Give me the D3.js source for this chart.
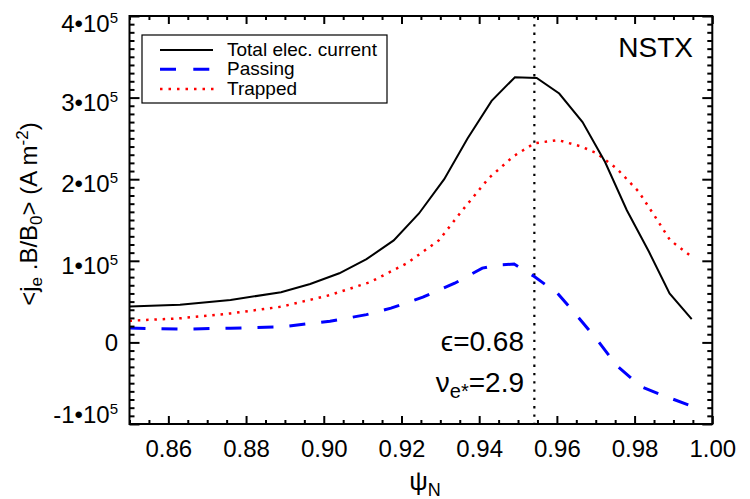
<!DOCTYPE html>
<html><head><meta charset="utf-8">
<script src="https://cdn.jsdelivr.net/npm/d3@7"></script>
<style>
body{margin:0;background:#fff}
svg{display:block}
text{font-family:"Liberation Sans",Arial,Helvetica,sans-serif;fill:#000}
</style>
</head><body>
<svg id="chart" width="750" height="499"></svg>
<script>
// ---------------- data ----------------
const psiTotal = [0.850,0.863,0.876,0.889,0.8965,0.904,0.911,0.918,0.9245,0.931,0.937,0.9432,0.9492,0.9548,0.9606,0.9666,0.9724,0.978,0.9837,0.989,0.9947];
const total    = [44000,46000,52000,61500,71500,84700,102000,125000,158000,200000,250000,296000,325000,324000,305000,270000,221000,162000,111000,60000,28500];

const psiPassing = [0.850,0.863,0.876,0.889,0.9016,0.911,0.9173,0.9255,0.9337,0.9408,0.9449,0.949,0.9541,0.9602,0.9653,0.9704,0.9755,0.9816,0.9867,0.9947];
const passing    = [17500,16300,17300,19000,26000,34000,42000,55400,72500,91000,95000,96000,81000,60000,32000,3000,-29000,-54000,-64000,-78000];

const psiTrapped = [0.850,0.863,0.876,0.889,0.9016,0.912,0.9214,0.9296,0.9357,0.9424,0.9488,0.9542,0.9603,0.9663,0.9702,0.9754,0.981,0.9857,0.9891,0.9947];
const trapped    = [26500,29500,35500,43700,58000,74000,97000,125000,162000,201000,228000,244000,248000,240000,232000,213000,185000,151000,125500,105000];

const seriesNames = ["Total elec. current","Passing","Trapped"];

const xTicks = [0.86,0.88,0.90,0.92,0.94,0.96,0.98,1.00];
const xTickLabels = ["0.86","0.88","0.90","0.92","0.94","0.96","0.98","1.00"];
const yTicks = [-100000,0,100000,200000,300000,400000];
const yTickMantissa = ["-1","0","1","2","3","4"];
const yTickExponent = ["5","","5","5","5","5"];

const markerPsi = 0.9542;
const epsValue = "0.68";
const nuValue = "2.9";
const machine = "NSTX";

// ---------------- layout ----------------
const L = 129.5, R = 712.3, T = 16, B = 424;
const x = d3.scaleLinear().domain([0.85, 1.00]).range([L, R]);
const y = d3.scaleLinear().domain([-100000, 400000]).range([B, T]);
const svg = d3.select("#chart");

// vertical dotted marker
svg.append("line")
  .attr("x1", x(markerPsi)).attr("x2", x(markerPsi))
  .attr("y1", T).attr("y2", B)
  .attr("stroke", "#000").attr("stroke-width", 2.2)
  .attr("stroke-dasharray", "2.3,6");

// series
const line = d3.line().x(d => x(d[0])).y(d => y(d[1]));
const zip = (a, b) => a.map((v, i) => [v, b[i]]);
svg.append("path").attr("d", line(zip(psiTrapped, trapped)))
  .attr("fill", "none").attr("stroke", "#ff0000").attr("stroke-width", 2.5)
  .attr("stroke-dasharray", "2.5,5.8");
svg.append("path").attr("d", line(zip(psiPassing, passing)))
  .attr("fill", "none").attr("stroke", "#0000ff").attr("stroke-width", 3)
  .attr("stroke-dasharray", "16,16");
svg.append("path").attr("d", line(zip(psiTotal, total)))
  .attr("fill", "none").attr("stroke", "#000").attr("stroke-width", 2)
  .attr("stroke-linejoin", "miter");

// axes
const xMinor = d3.range(0.85, 1.0001, 0.005).filter(v => !xTicks.some(t => Math.abs(t - v) < 1e-6));
const yMinor = d3.range(-100000, 400001, 10000).filter(v => v % 100000 !== 0);

function styleAxis(g) {
  g.select(".domain").remove();
  g.selectAll(".tick line").attr("stroke", "#000").attr("stroke-width", 2);
}
// bottom
const gB = svg.append("g").attr("transform", `translate(0,${B})`)
  .call(d3.axisBottom(x).tickValues(xTicks).tickSize(-8).tickPadding(0)
        .tickFormat((d, i) => xTickLabels[i]));
styleAxis(gB);
gB.selectAll(".tick text").attr("y", 33).attr("dy", 0).attr("font-size", 24)
  .attr("font-family", "Liberation Sans, Arial, sans-serif");
svg.append("g").attr("transform", `translate(0,${B})`)
  .call(d3.axisBottom(x).tickValues(xMinor).tickSize(-4).tickFormat(""))
  .call(styleAxis);
// top
svg.append("g").attr("transform", `translate(0,${T})`)
  .call(d3.axisTop(x).tickValues(xTicks).tickSize(-8).tickFormat("")).call(styleAxis);
svg.append("g").attr("transform", `translate(0,${T})`)
  .call(d3.axisTop(x).tickValues(xMinor).tickSize(-4).tickFormat("")).call(styleAxis);
// left
const gL = svg.append("g").attr("transform", `translate(${L},0)`)
  .call(d3.axisLeft(y).tickValues(yTicks).tickSize(-10).tickFormat(""));
styleAxis(gL);
gL.selectAll(".tick text").each(function(d, i) {
  const t = d3.select(this);
  const hasExp = yTickExponent[i] !== "";
  let base = y(d) + (hasExp ? 12.5 : 8);
  base = Math.max(T + 15.7, Math.min(B - 2, base));
  t.attr("x", -11.5).attr("y", base - y(d)).attr("dy", 0)
   .attr("font-size", 24).attr("text-anchor", "end")
   .attr("font-family", "Liberation Sans, Arial, sans-serif");
  t.text(null);
  t.append("tspan").text(yTickMantissa[i] + (hasExp ? "\u202210" : ""));
  if (hasExp) t.append("tspan").attr("dy", -9).attr("font-size", 15).text(yTickExponent[i]);
});
svg.append("g").attr("transform", `translate(${L},0)`)
  .call(d3.axisLeft(y).tickValues(yMinor).tickSize(-5).tickFormat("")).call(styleAxis);
// right
svg.append("g").attr("transform", `translate(${R},0)`)
  .call(d3.axisRight(y).tickValues(yTicks).tickSize(-10).tickFormat("")).call(styleAxis);
svg.append("g").attr("transform", `translate(${R},0)`)
  .call(d3.axisRight(y).tickValues(yMinor).tickSize(-5).tickFormat("")).call(styleAxis);

// frame
svg.append("rect").attr("x", L).attr("y", T).attr("width", R - L).attr("height", B - T)
  .attr("fill", "none").attr("stroke", "#000").attr("stroke-width", 2);

// axis titles
const xt = svg.append("text").attr("x", 425).attr("y", 490).attr("text-anchor", "middle").attr("font-size", 26);
xt.append("tspan").text("\u03C8");
xt.append("tspan").attr("dy", 6).attr("font-size", 18).text("N");

const yt = svg.append("text").attr("transform", "translate(37,214) rotate(-90)")
  .attr("text-anchor", "middle").attr("font-size", 24);
yt.append("tspan").text("<j");
yt.append("tspan").attr("dy", 5).attr("font-size", 17).text("e");
yt.append("tspan").attr("dy", -5).text("  .B/B");
yt.append("tspan").attr("dy", 5).attr("font-size", 17).text("0");
yt.append("tspan").attr("dy", -5).text("> (A m");
yt.append("tspan").attr("dy", -9).attr("font-size", 17).text("-2");
yt.append("tspan").attr("dy", 9).text(")");

// legend
svg.append("rect").attr("x", 142).attr("y", 35).attr("width", 245).attr("height", 68)
  .attr("fill", "#fff").attr("stroke", "#000").attr("stroke-width", 1.2);
const legStyles = [
  {stroke: "#000", w: 2, dash: null, x2: 213},
  {stroke: "#0000ff", w: 3, dash: "16,17.3", x2: 209.3},
  {stroke: "#ff0000", w: 2.5, dash: "2.5,6", x2: 214}
];
const legY = [50, 69.3, 89];
seriesNames.forEach((name, i) => {
  const s = legStyles[i];
  svg.append("line").attr("x1", 160).attr("x2", s.x2).attr("y1", legY[i]).attr("y2", legY[i])
    .attr("stroke", s.stroke).attr("stroke-width", s.w).attr("stroke-dasharray", s.dash);
  svg.append("text").attr("x", 227).attr("y", legY[i] + 5.8).attr("font-size", 19).text(name);
});

// annotations
svg.append("text").attr("x", 693).attr("y", 57).attr("text-anchor", "end").attr("font-size", 28).text(machine);
svg.append("text").attr("x", 524).attr("y", 351).attr("text-anchor", "end").attr("font-size", 28)
  .text("\u03F5=" + epsValue);
const nu = svg.append("text").attr("x", 524).attr("y", 391.5).attr("text-anchor", "end").attr("font-size", 28);
nu.append("tspan").text("\u03BD");
nu.append("tspan").attr("dy", 6).attr("font-size", 20).text("e*");
nu.append("tspan").attr("dy", -6).text("=" + nuValue);
</script>
</body></html>
